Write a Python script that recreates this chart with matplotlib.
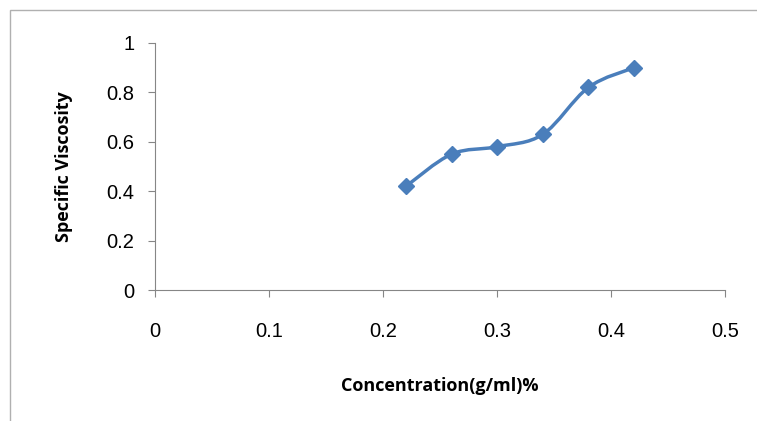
import numpy as np
import matplotlib
matplotlib.use("Agg")
import matplotlib.pyplot as plt
from matplotlib.path import Path
from matplotlib.patches import PathPatch, Rectangle

conc = [0.22, 0.26, 0.30, 0.34, 0.38, 0.42]
visc = [0.42, 0.55, 0.58, 0.63, 0.82, 0.90]
x_ticks = [0, 0.1, 0.2, 0.3, 0.4, 0.5]
y_ticks = [0, 0.2, 0.4, 0.6, 0.8, 1]

color = "#4a7ebb"

fig = plt.figure(figsize=(7.57, 4.21), dpi=100)
fig.patches.append(Rectangle((10 / 757, -0.05), 1.2, 1 - 10 / 421 + 0.05,
                             transform=fig.transFigure, fill=False,
                             edgecolor="#b0b0b0", linewidth=1))
ax = fig.add_axes([0.205, 0.311, 0.753, 0.587])

# smoothed line like Excel (Catmull-Rom converted to Bezier)
pts = np.column_stack([conc, visc])
verts = [pts[0]]
codes = [Path.MOVETO]
for i in range(len(pts) - 1):
    p0 = pts[i - 1] if i > 0 else pts[i]
    p1, p2 = pts[i], pts[i + 1]
    p3 = pts[i + 2] if i + 2 < len(pts) else pts[i + 1]
    c1 = p1 + (p2 - p0) / 6
    c2 = p2 - (p3 - p1) / 6
    verts += [c1, c2, p2]
    codes += [Path.CURVE4] * 3
ax.add_patch(PathPatch(Path(verts, codes), fill=False, edgecolor=color, linewidth=2.5))
ax.plot(conc, visc, linestyle="none", marker="D", markersize=8, color=color)

ax.set_xlim(0, 0.5)
ax.set_ylim(0, 1)
ax.set_xticks(x_ticks)
ax.set_xticklabels(["0", "0.1", "0.2", "0.3", "0.4", "0.5"])
ax.set_yticks(y_ticks)
ax.set_yticklabels(["0", "0.2", "0.4", "0.6", "0.8", "1"])
for s in ["top", "right"]:
    ax.spines[s].set_visible(False)
for s in ["left", "bottom"]:
    ax.spines[s].set_color("#868686")
ax.tick_params(colors="#868686", length=5, labelcolor="black", labelsize=14.5)
ax.tick_params(axis="x", pad=18)
ax.tick_params(axis="y", pad=10)
for lbl in ax.get_xticklabels() + ax.get_yticklabels():
    lbl.set_family("Liberation Sans")

ax.set_xlabel("Concentration(g/ml)%", fontsize=13, fontweight="bold",
              family="Open Sans", labelpad=26)
ax.set_ylabel("Specific Viscosity", fontsize=13, fontweight="bold",
              family="Open Sans", labelpad=24)

fig.savefig("out.png", dpi=100)
